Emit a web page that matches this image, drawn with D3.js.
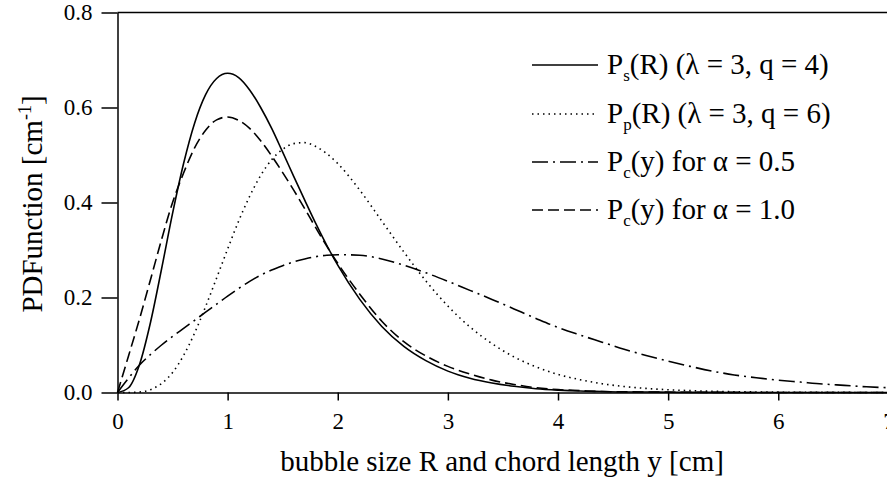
<!DOCTYPE html>
<html>
<head>
<meta charset="utf-8">
<script src="https://cdn.jsdelivr.net/npm/d3@7"></script>
<style>
  body { margin: 0; background: #fff; }
  svg { display: block; }
</style>
</head>
<body>
<svg></svg>
<script>
// Grid of R / y values (cm)
let xGrid = [0, 0.1, 0.2, 0.3, 0.4, 0.5, 0.6, 0.7, 0.8, 0.9, 1.0,
  1.1, 1.2, 1.3, 1.4, 1.5, 1.6, 1.7, 1.8, 1.9, 2.0,
  2.2, 2.4, 2.6, 2.8, 3.0, 3.2, 3.4, 3.6, 3.8, 4.0,
  4.2, 4.4, 4.6, 4.8, 5.0, 5.2, 5.4, 5.6, 5.8, 6.0,
  6.2, 6.4, 6.6, 6.8, 7.0];

// Ps(R) (lambda = 3, q = 4)
let psValues = [0, 0.010, 0.059, 0.148, 0.260, 0.377, 0.482, 0.567, 0.627, 0.661, 0.672,
  0.663, 0.637, 0.600, 0.556, 0.506, 0.455, 0.405, 0.356, 0.310, 0.268,
  0.196, 0.139, 0.097, 0.067, 0.045, 0.030, 0.020, 0.013, 0.008, 0.005,
  0.003, 0.002, 0.001, 0.001, 0.0005, 0.0003, 0.0002, 0.0001, 0.0001, 0,
  0, 0, 0, 0, 0];

// Pp(R) (lambda = 3, q = 6)
let ppValues = [0, 0, 0.001, 0.006, 0.019, 0.042, 0.078, 0.125, 0.181, 0.241, 0.302,
  0.361, 0.413, 0.457, 0.490, 0.512, 0.524, 0.526, 0.518, 0.503, 0.482,
  0.426, 0.361, 0.296, 0.235, 0.182, 0.138, 0.103, 0.075, 0.054, 0.038,
  0.027, 0.0185, 0.0126, 0.0086, 0.0058, 0.0039, 0.0026, 0.0017, 0.0011, 0.0007,
  0.0005, 0.0003, 0.0002, 0.0001, 0.0001];

// Pc(y) for alpha = 0.5
let pcHalfValues = [0, 0.030, 0.058, 0.080, 0.100, 0.118, 0.135, 0.152, 0.169, 0.186, 0.203,
  0.219, 0.234, 0.247, 0.258, 0.267, 0.275, 0.281, 0.286, 0.289, 0.290,
  0.289, 0.281, 0.268, 0.252, 0.234, 0.215, 0.196, 0.176, 0.156, 0.137,
  0.121, 0.106, 0.091, 0.078, 0.066, 0.055, 0.045, 0.037, 0.031, 0.026,
  0.022, 0.018, 0.015, 0.012, 0.010];

// Pc(y) for alpha = 1.0
let pcOneValues = [0, 0.077, 0.155, 0.238, 0.322, 0.400, 0.462, 0.515, 0.552, 0.574, 0.580,
  0.573, 0.556, 0.530, 0.498, 0.463, 0.426, 0.387, 0.347, 0.308, 0.272,
  0.207, 0.150, 0.107, 0.077, 0.055, 0.039, 0.026, 0.017, 0.010, 0.006,
  0.004, 0.002, 0.0015, 0.001, 0.0007, 0.0005, 0.0003, 0.0002, 0.0001, 0.0001,
  0, 0, 0, 0, 0];

let xTicks = [0, 1, 2, 3, 4, 5, 6, 7];
let yTicks = [0, 0.2, 0.4, 0.6, 0.8];

let serifFont = "'Liberation Serif', 'Times New Roman', serif";

let series = [
  { values: psValues, dash: null },
  { values: ppValues, dash: '1.5,4' },
  { values: pcHalfValues, dash: '16,5,2,5' },
  { values: pcOneValues, dash: '11,5' }
];

let svgWidth = 887;
let svgHeight = 483;

let svg = d3.select('svg')
  .attr('width', svgWidth)
  .attr('height', svgHeight);

// scales (pixel positions of the plotting area)
let xScale = d3.scaleLinear().domain([0, 7]).range([117.5, 888.4]);
let yScale = d3.scaleLinear().domain([0, 0.8]).range([392.5, 12.5]);

let xAxis = d3.axisBottom(xScale)
  .tickValues(xTicks)
  .tickSize(8)
  .tickSizeOuter(0)
  .tickPadding(12)
  .tickFormat(d3.format('d'));

let yAxis = d3.axisLeft(yScale)
  .tickValues(yTicks)
  .tickSize(16)
  .tickSizeOuter(0)
  .tickPadding(9)
  .tickFormat(d3.format('.1f'));

svg.append('g')
  .attr('transform', 'translate(0, ' + yScale(0) + ')')
  .call(xAxis);

svg.append('g')
  .attr('transform', 'translate(' + xScale(0) + ', 0)')
  .call(yAxis);

svg.selectAll('.domain, .tick line')
  .attr('stroke', '#000')
  .attr('stroke-width', 1.5);

svg.selectAll('.tick text')
  .style('font-family', serifFont)
  .style('font-size', '23px')
  .attr('fill', '#000');

// top frame line
svg.append('line')
  .attr('x1', xScale(0))
  .attr('x2', xScale(7))
  .attr('y1', yScale(0.8))
  .attr('y2', yScale(0.8))
  .attr('stroke', '#000')
  .attr('stroke-width', 1.5);

// curves
let line = d3.line()
  .x((d, i) => xScale(xGrid[i]))
  .y(d => yScale(d))
  .curve(d3.curveMonotoneX);

for (let s of series) {
  svg.append('path')
    .datum(s.values)
    .attr('d', line)
    .attr('fill', 'none')
    .attr('stroke', '#000')
    .attr('stroke-width', 1.6)
    .attr('stroke-dasharray', s.dash);
}

// axis labels
svg.append('text')
  .attr('x', 502)
  .attr('y', 471)
  .attr('text-anchor', 'middle')
  .style('font-family', serifFont)
  .style('font-size', '29px')
  .text('bubble size R and chord length y [cm]');

let yLabel = svg.append('text')
  .attr('transform', 'translate(42, 204) rotate(-90)')
  .attr('text-anchor', 'middle')
  .style('font-family', serifFont)
  .style('font-size', '29px');
yLabel.append('tspan').text('PDFunction [cm');
yLabel.append('tspan').attr('dy', -11).style('font-size', '18px').text('-1');
yLabel.append('tspan').attr('dy', 11).text(']');

// legend
let legendRows = [65, 114, 162, 210];
let legendTexts = [
  { main: 'P', sub: 's', rest: '(R) (λ = 3, q = 4)' },
  { main: 'P', sub: 'p', rest: '(R) (λ = 3, q = 6)' },
  { main: 'P', sub: 'c', rest: '(y) for α = 0.5' },
  { main: 'P', sub: 'c', rest: '(y) for α = 1.0' }
];

series.forEach((s, i) => {
  let ly = legendRows[i];
  svg.append('line')
    .attr('x1', 532)
    .attr('x2', 598)
    .attr('y1', ly)
    .attr('y2', ly)
    .attr('stroke', '#000')
    .attr('stroke-width', 1.4)
    .attr('stroke-dasharray', s.dash);

  let t = svg.append('text')
    .attr('x', 607)
    .attr('y', ly + 9)
    .style('font-family', serifFont)
    .style('font-size', '29px');
  t.append('tspan').text(legendTexts[i].main);
  t.append('tspan').attr('dy', 7).style('font-size', '17px').text(legendTexts[i].sub);
  t.append('tspan').attr('dy', -7).text(legendTexts[i].rest);
});
</script>
</body>
</html>
